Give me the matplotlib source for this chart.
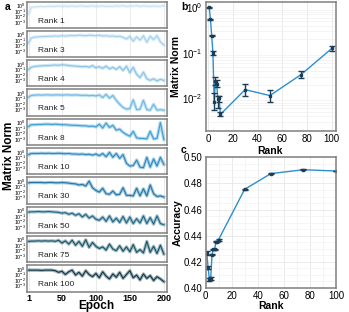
import numpy as np
import matplotlib.pyplot as plt
from matplotlib.ticker import FixedLocator, NullLocator, MultipleLocator, LogFormatterSciNotation

plt.rcParams['font.family'] = ['Liberation Sans', 'DejaVu Sans']

# ---- panel a: log10 matrix norm, sampled every 5 epochs ----
epochs = [1] + list(range(5, 201, 5))
rank_names = ['Rank 1', 'Rank 3', 'Rank 4', 'Rank 5', 'Rank 8',
              'Rank 10', 'Rank 30', 'Rank 50', 'Rank 75', 'Rank 100']
rank_colors = ['#c9e4f5', '#a3d2ee', '#88c5e9', '#6db9e4', '#3c9fd6',
               '#2a88c2', '#1f77a8', '#1c6684', '#175368', '#0e3646']

r1 = [-1.5, -0.35, -0.3, -0.25, -0.2, -0.25, -0.15, -0.2, -0.2, -0.1, -0.2, -0.15, -0.2, -0.1,
      -0.2, -0.15, -0.1, -0.2, -0.15, -0.1, -0.2, -0.15, -0.1, -0.2, -0.15, -0.2, -0.1, -0.15,
      -0.05, -0.2, -0.1, -0.15, -0.05, -0.2, -0.1, -0.15, -0.2, -0.1, -0.2, -0.15, -0.05]
r3 = [-1.5, -0.6, -0.45, -0.4, -0.35, -0.35, -0.3, -0.3, -0.25, -0.3, -0.2, -0.25, -0.2, -0.15,
      -0.2, -0.1, -0.15, -0.2, -0.1, -0.15, -0.2, -0.1, -0.25, -0.2, -0.3, -0.25, -0.35, -0.3, -0.5,
      -0.8, -0.3, -1.2, -0.4, -1.0, -0.2, -1.4, -0.3, -0.9, -0.2, -1.3, -1.9]
r4 = [-1.0, -0.6, -0.45, -0.4, -0.35, -0.3, -0.3, -0.25, -0.2, -0.25, -0.15, -0.2, -0.3, -0.35,
      -0.4, -0.45, -0.5, -0.45, -0.6, -0.3, -0.7, -0.5, -0.8, -0.4, -0.9, -0.6, -1.0, -0.5, -1.2,
      -0.4, -1.6, -0.6, -1.9, -2.5, -1.5, -2.7, -3.0, -2.7, -3.1, -2.8, -3.0]
r5 = [-0.7, -0.4, -0.35, -0.3, -0.35, -0.3, -0.3, -0.35, -0.3, -0.3, -0.35, -0.3, -0.3, -0.35,
      -0.3, -0.35, -0.4, -0.35, -0.45, -0.4, -0.5, -0.3, -0.8, -0.2, -0.9, -0.4, -1.3, -2.0, -2.6,
      -2.9, -2.8, -1.2, -3.0, -2.9, -1.3, -3.0, -3.1, -2.0, -3.1, -3.0, -3.1]
r8 = [-0.7, -0.4, -0.4, -0.35, -0.35, -0.3, -0.3, -0.35, -0.3, -0.35, -0.4, -0.4, -0.45, -0.5,
      -0.5, -0.55, -0.6, -0.6, -0.7, -0.65, -0.8, -0.3, -1.0, -0.1, -0.9, -0.5, -1.4, -1.2, -1.8,
      -2.2, -2.5, -1.6, -2.8, -2.9, -2.9, -3.0, -1.6, -3.0, -2.9, 0.0, -3.1]
r10 = [-0.5, -0.3, -0.3, -0.3, -0.25, -0.3, -0.25, -0.3, -0.3, -0.25, -0.3, -0.35, -0.3, -0.4,
       -0.4, -0.45, -0.4, -0.5, -0.45, -0.6, -0.4, -0.7, -0.3, -0.9, -0.1, -1.0, -0.3, -1.2, -0.5,
       -2.1, -2.6, -2.5, -1.5, -2.8, -2.9, -1.0, -2.8, -1.3, -2.6, -1.0, -2.3]
r30 = [-0.3, -0.25, -0.25, -0.25, -0.25, -0.3, -0.25, -0.25, -0.3, -0.3, -0.25, -0.3, -0.35, -0.45,
       -0.5, -0.7, -0.6, -0.9, 0.0, -1.2, -1.7, -2.0, -1.3, -2.3, -2.4, -1.8, -2.5, -2.4, -1.2,
       -2.6, -2.6, -2.7, -1.3, -2.7, -1.4, -2.7, -0.7, -2.3, -2.8, -2.7, -2.9]
r50 = [-0.3, -0.25, -0.25, -0.2, -0.25, -0.25, -0.2, -0.25, -0.3, -0.35, -0.5, -0.4, -0.7, -0.5,
       -0.9, -0.6, -1.2, -0.7, -1.4, -1.0, -1.6, -1.8, -1.2, -2.0, -1.0, -2.1, -1.4, -2.2, -1.1,
       -2.3, -1.2, -2.4, -1.5, -2.3, -1.0, -2.4, -1.3, -2.5, -1.0, -2.4, -2.6]
r75 = [-0.3, -0.25, -0.25, -0.2, -0.25, -0.2, -0.25, -0.2, -0.3, -0.1, -0.6, -0.2, -0.8, -0.1,
       -1.0, -0.3, -1.2, 0.0, -1.4, -0.5, -1.2, -1.6, -1.3, -1.9, -0.8, -1.7, -2.0, -1.1, -2.1,
       -1.3, -2.2, -0.9, -2.3, -1.8, -2.4, -0.3, -2.3, -1.2, -2.5, -1.0, -2.6]
r100 = [-0.2, -0.2, -0.2, -0.2, -0.25, -0.2, -0.2, -0.2, -0.3, -0.6, -0.4, -1.0, -0.5, -0.2,
        -1.1, -0.6, -1.3, -0.3, -1.0, -1.4, -0.8, -1.6, -0.5, -1.3, -1.8, -0.9, -1.5, -0.6, -1.7,
        -1.0, -0.3, -1.6, -1.1, -2.0, -0.9, -1.7, -1.2, -2.1, -1.4, -1.8, -2.3]
log_norms = [r1, r3, r4, r5, r8, r10, r30, r50, r75, r100]

# ---- panel b / c ----
ranks = [1, 2, 3, 4, 5, 6, 7, 8, 9, 10, 30, 50, 75, 100]
norm_mean = [1.0, 0.55, 0.24, 0.10, 0.0085, 0.024, 0.021, 0.0095, 0.010, 0.0044, 0.0155, 0.0115, 0.033, 0.125]
norm_lo = [0.97, 0.53, 0.23, 0.092, 0.0055, 0.020, 0.018, 0.0062, 0.0085, 0.0040, 0.011, 0.0085, 0.028, 0.11]
norm_hi = [1.03, 0.57, 0.25, 0.11, 0.0130, 0.029, 0.025, 0.0110, 0.0115, 0.0049, 0.021, 0.0155, 0.040, 0.145]
acc_mean = [0.4265, 0.4155, 0.4065, 0.4075, 0.4255, 0.4295, 0.4295, 0.4355, 0.4355, 0.437,
            0.4755, 0.4875, 0.4905, 0.4895]
acc_err = [0.0015, 0.001, 0.001, 0.001, 0.0005, 0.0005, 0.0005, 0.0005, 0.0005, 0.0008,
           0.0003, 0.0003, 0.0003, 0.0003]

frame_col = '#808080'
line_col = '#2b8fd0'
err_col = '#1b3d55'

fig = plt.figure(figsize=(3.49, 3.12), dpi=100)
W, H = 349.0, 312.0


def style_frame(ax):
    for s in ax.spines.values():
        s.set_color(frame_col)
        s.set_linewidth(1.1)


# panel a
left, right = 27, 166.5
for i in range(10):
    top = 1.5 + i * 29.3
    ax = fig.add_axes([left / W, 1 - (top + 26.3) / H, (right - left) / W, 26.3 / H])
    y = 10 ** np.array(log_norms[i])
    ax.plot(epochs, y, color=rank_colors[i], lw=2.4, alpha=0.4, solid_joinstyle='round')
    ax.plot(epochs, y, color=rank_colors[i], lw=0.8)
    ax.set_yscale('log')
    ax.set_ylim(10 ** -4.1, 10 ** 0.7)
    ax.set_xlim(-1.5, 204)
    ax.yaxis.set_major_locator(FixedLocator([1, 0.1, 0.01, 0.001]))
    ax.yaxis.set_major_formatter(LogFormatterSciNotation())
    ax.yaxis.set_minor_locator(NullLocator())
    ax.set_xticks([1, 50, 100, 150, 200])
    ax.grid(axis='x', color='#e6e6e6', lw=0.6)
    ax.tick_params(axis='y', labelsize=3.8, length=0, pad=1)
    ax.tick_params(axis='x', labelsize=6.5, length=0, pad=1.5)
    if i < 9:
        ax.set_xticklabels([])
    else:
        for t in ax.get_xticklabels():
            t.set_fontweight('bold')
    ax.text(0.08, 0.2, rank_names[i], transform=ax.transAxes, fontsize=6, color='#222222')
    style_frame(ax)

fig.text(5 / W, 1 - 10 / H, 'a', fontsize=7.5, fontweight='bold')
fig.text(9 / W, 0.5, 'Matrix Norm', rotation=90, ha='center', va='center',
         fontsize=8.5, fontweight='bold')
fig.text((left + right) / 2 / W, 1 - 311.5 / H, 'Epoch', ha='center', va='bottom',
         fontsize=8.5, fontweight='bold')

# panel b
axb = fig.add_axes([205.5 / W, 1 - 131 / H, 130 / W, 129 / H])
lo = np.array(norm_mean) - np.array(norm_lo)
hi = np.array(norm_hi) - np.array(norm_mean)
axb.plot(ranks, norm_mean, color=line_col, lw=1.0)
axb.errorbar(ranks, norm_mean, yerr=[lo, hi], fmt='s', ms=2.0, color=err_col,
             ecolor=err_col, elinewidth=1.0, capsize=2, capthick=1.0)
axb.set_yscale('log')
axb.set_ylim(10 ** -2.72, 10 ** 0.12)
axb.set_xlim(-2, 103)
axb.set_xticks([0, 20, 40, 60, 80, 100])
axb.grid(axis='x', color='#e6e6e6', lw=0.6)
axb.grid(axis='y', which='minor', color='#f0f0f0', lw=0.5)
axb.tick_params(labelsize=7, length=0, pad=2)
axb.tick_params(which='minor', length=0)
axb.set_xlabel('Rank', fontsize=7.5, fontweight='bold', labelpad=1.5)
axb.set_ylabel('Matrix Norm', fontsize=7.5, fontweight='bold', labelpad=1)
style_frame(axb)
fig.text(181 / W, 1 - 10 / H, 'b', fontsize=7.5, fontweight='bold')

# panel c
axc = fig.add_axes([205.5 / W, 1 - 288 / H, 130.5 / W, 130.7 / H])
axc.plot(ranks, acc_mean, color=line_col, lw=1.0)
axc.errorbar(ranks, acc_mean, yerr=acc_err, fmt='s', ms=1.8, color=err_col,
             ecolor=err_col, elinewidth=1.0, capsize=2, capthick=1.0)
axc.set_xlim(0, 100)
axc.set_ylim(0.40, 0.50)
axc.set_xticks([0, 20, 40, 60, 80, 100])
axc.set_yticks([0.40, 0.42, 0.44, 0.46, 0.48, 0.50])
axc.xaxis.set_minor_locator(MultipleLocator(10))
axc.yaxis.set_minor_locator(MultipleLocator(0.005))
axc.grid(which='major', color='#e6e6e6', lw=0.6)
axc.grid(which='minor', color='#f2f2f2', lw=0.5)
axc.tick_params(labelsize=7, length=0, pad=2)
axc.tick_params(which='minor', length=0)
axc.set_xlabel('Rank', fontsize=7.5, fontweight='bold', labelpad=0.5)
axc.set_ylabel('Accuracy', fontsize=7.5, fontweight='bold', labelpad=1)
style_frame(axc)
fig.text(181 / W, 1 - 153 / H, 'c', fontsize=7.5, fontweight='bold')

fig.savefig('out.png', dpi=100)
